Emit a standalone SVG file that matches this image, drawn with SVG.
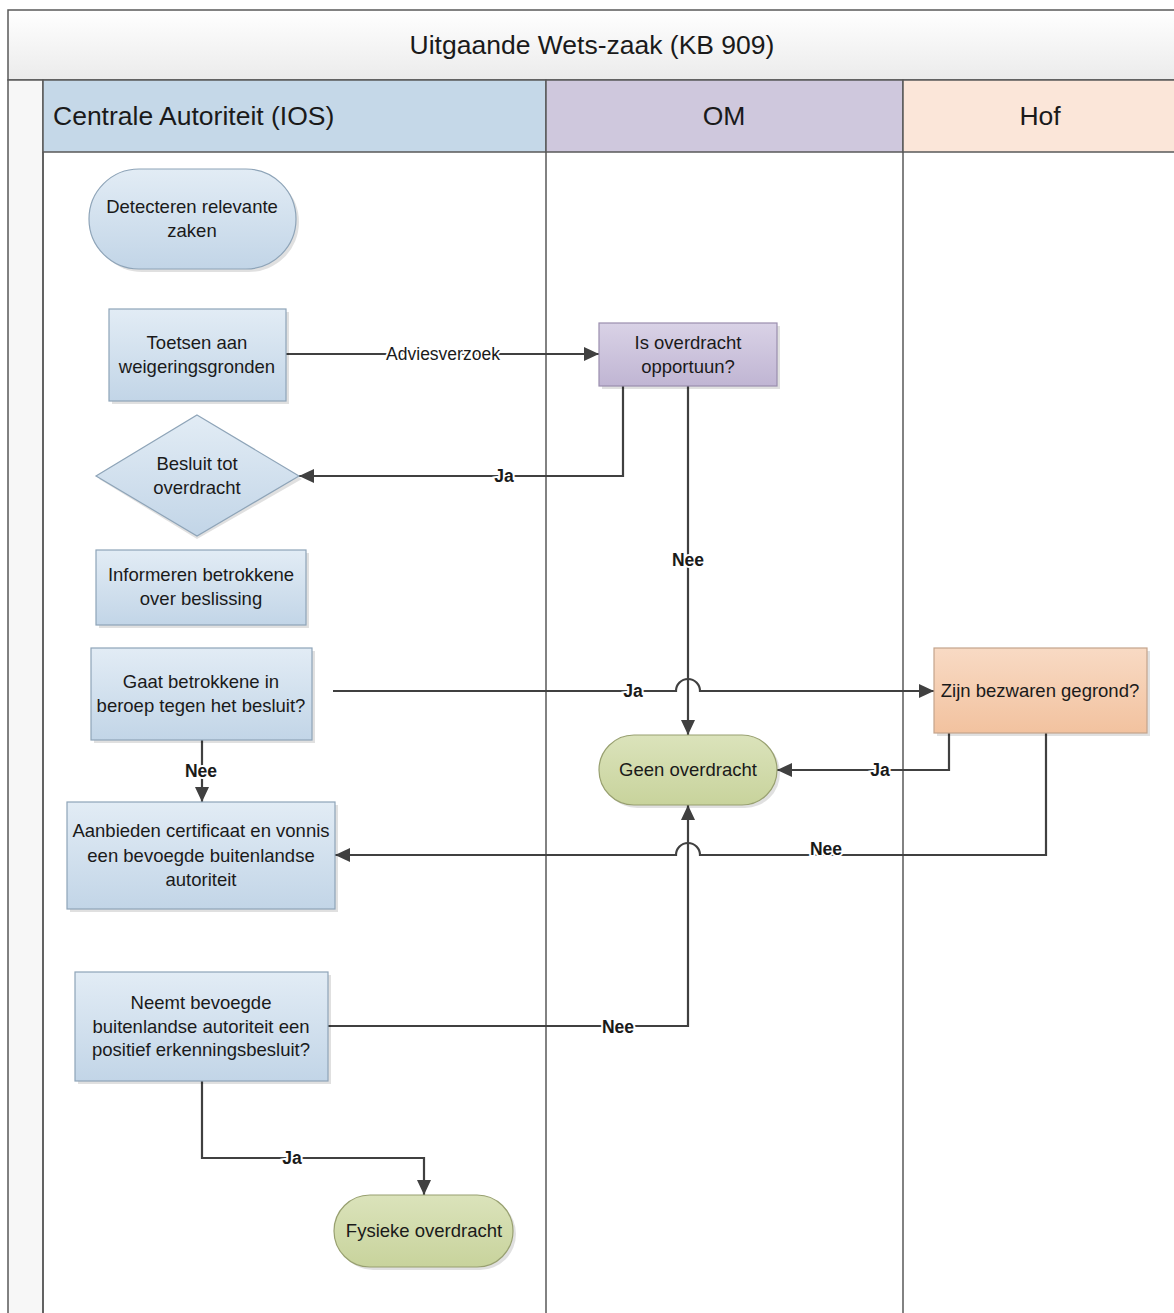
<svg xmlns="http://www.w3.org/2000/svg" width="1174" height="1313" viewBox="0 0 1174 1313">
<style>
  text { font-family: "Liberation Sans", Arial, sans-serif; fill: #1a1a1a; }
  .nt { font-size: 18.5px; text-anchor: middle; }
  .hd { font-size: 26.5px; }
  .lbl { font-size: 17.5px; text-anchor: middle; font-weight: bold; stroke: #ffffff; stroke-width: 4; paint-order: stroke; }
  .lbn { font-size: 17.5px; text-anchor: middle; stroke: #ffffff; stroke-width: 4; paint-order: stroke; }
  .ln { stroke: #595959; stroke-width: 1.5; }
  .cn { fill: none; stroke: #404040; stroke-width: 2.2; }
  .sh { fill: #000000; opacity: 0.12; }
  .blue { fill: url(#gBlue); stroke: #8ea4b8; stroke-width: 1.2; }
  .purp { fill: url(#gPurp); stroke: #9a8eae; stroke-width: 1.2; }
  .peach { fill: url(#gPeach); stroke: #c4a48c; stroke-width: 1.2; }
  .green { fill: url(#gGreen); stroke: #98a070; stroke-width: 1.2; }
</style>
<defs>
  <linearGradient id="gBlue" x1="0" y1="0" x2="0" y2="1">
    <stop offset="0" stop-color="#e2ecf5"/><stop offset="1" stop-color="#c2d5e7"/>
  </linearGradient>
  <linearGradient id="gPurp" x1="0" y1="0" x2="0" y2="1">
    <stop offset="0" stop-color="#d9d2e6"/><stop offset="1" stop-color="#c0b5d3"/>
  </linearGradient>
  <linearGradient id="gPeach" x1="0" y1="0" x2="0" y2="1">
    <stop offset="0" stop-color="#f8dac4"/><stop offset="1" stop-color="#f2c29f"/>
  </linearGradient>
  <linearGradient id="gGreen" x1="0" y1="0" x2="0" y2="1">
    <stop offset="0" stop-color="#dbe3bb"/><stop offset="1" stop-color="#c8d39c"/>
  </linearGradient>
  <linearGradient id="gTitle" x1="0" y1="0" x2="0" y2="1">
    <stop offset="0" stop-color="#ffffff"/><stop offset="1" stop-color="#ebebeb"/>
  </linearGradient>
  <marker id="arr" markerUnits="userSpaceOnUse" markerWidth="16" markerHeight="14" refX="15" refY="7" orient="auto">
    <path d="M0,0 L15,7 L0,14 z" fill="#404040"/>
  </marker>
</defs>

<rect width="1174" height="1313" fill="#ffffff"/>

<!-- pool and lanes -->
<g id="pool">
  <rect x="8" y="10" width="1170" height="70" fill="url(#gTitle)" class="ln"/>
  <text x="592" y="54" class="hd" text-anchor="middle">Uitgaande Wets-zaak (KB 909)</text>
  <rect x="8" y="80" width="35" height="1240" fill="#f7f7f7" class="ln"/>
</g>
<g id="lane-ca">
  <rect x="43" y="80" width="503" height="72" fill="#c5d8e8" class="ln"/>
  <text x="53" y="125" class="hd">Centrale Autoriteit (IOS)</text>
  <line x1="43" y1="152" x2="43" y2="1320" class="ln"/>
</g>
<g id="lane-om">
  <rect x="546" y="80" width="357" height="72" fill="#cfc8dd" class="ln"/>
  <text x="724" y="125" class="hd" text-anchor="middle">OM</text>
  <line x1="546" y1="152" x2="546" y2="1320" class="ln"/>
</g>
<g id="lane-hof">
  <rect x="903" y="80" width="280" height="72" fill="#fbe6d9" class="ln"/>
  <text x="1040" y="125" class="hd" text-anchor="middle">Hof</text>
  <line x1="903" y1="152" x2="903" y2="1320" class="ln"/>
</g>

<!-- connectors -->
<g id="connectors">
  <path d="M286,354 H599" class="cn" marker-end="url(#arr)"/>
  <text x="443" y="360" class="lbn">Adviesverzoek</text>

  <path d="M623,386 V476 H299" class="cn" marker-end="url(#arr)"/>
  <text x="504" y="482" class="lbl">Ja</text>

  <path d="M688,386 V735" class="cn" marker-end="url(#arr)"/>
  <text x="688" y="566" class="lbl">Nee</text>

  <path d="M333,691 H676 A12,12 0 0 1 700,691 H934" class="cn" marker-end="url(#arr)"/>
  <text x="633" y="697" class="lbl">Ja</text>

  <path d="M202,740 V802" class="cn" marker-end="url(#arr)"/>
  <text x="201" y="777" class="lbl">Nee</text>

  <path d="M949,733 V770 H777" class="cn" marker-end="url(#arr)"/>
  <text x="880" y="776" class="lbl">Ja</text>

  <path d="M1046,733 V855 H700 A12,12 0 0 0 676,855 H335" class="cn" marker-end="url(#arr)"/>
  <text x="826" y="855" class="lbl">Nee</text>

  <path d="M328,1026 H688 V805" class="cn" marker-end="url(#arr)"/>
  <text x="618" y="1033" class="lbl">Nee</text>

  <path d="M202,1081 V1158 H424 V1195" class="cn" marker-end="url(#arr)"/>
  <text x="292" y="1164" class="lbl">Ja</text>
</g>

<!-- nodes -->
<g id="n-detecteren">
  <rect x="92" y="172" width="207" height="100" rx="50" class="sh"/>
  <rect x="89" y="169" width="207" height="100" rx="50" class="blue"/>
  <text x="192" y="213" class="nt">Detecteren relevante</text>
  <text x="192" y="237" class="nt">zaken</text>
</g>
<g id="n-toetsen">
  <rect x="112" y="312" width="177" height="92" class="sh"/>
  <rect x="109" y="309" width="177" height="92" class="blue"/>
  <text x="197" y="349" class="nt">Toetsen aan</text>
  <text x="197" y="373" class="nt">weigeringsgronden</text>
</g>
<g id="n-opportuun">
  <rect x="602" y="326" width="178" height="63" class="sh"/>
  <rect x="599" y="323" width="178" height="63" class="purp"/>
  <text x="688" y="349" class="nt">Is overdracht</text>
  <text x="688" y="373" class="nt">opportuun?</text>
</g>
<g id="n-besluit">
  <polygon points="197,418 302,479 197,539 99,479" class="sh"/>
  <polygon points="197,415 299,476 197,536 96,476" class="blue"/>
  <text x="197" y="470" class="nt">Besluit tot</text>
  <text x="197" y="494" class="nt">overdracht</text>
</g>
<g id="n-informeren">
  <rect x="99" y="553" width="210" height="75" class="sh"/>
  <rect x="96" y="550" width="210" height="75" class="blue"/>
  <text x="201" y="581" class="nt">Informeren betrokkene</text>
  <text x="201" y="605" class="nt">over beslissing</text>
</g>
<g id="n-beroep">
  <rect x="94" y="651" width="221" height="92" class="sh"/>
  <rect x="91" y="648" width="221" height="92" class="blue"/>
  <text x="201" y="688" class="nt">Gaat betrokkene in</text>
  <text x="201" y="712" class="nt">beroep tegen het besluit?</text>
</g>
<g id="n-bezwaren">
  <rect x="937" y="651" width="213" height="85" class="sh"/>
  <rect x="934" y="648" width="213" height="85" class="peach"/>
  <text x="1040" y="697" class="nt">Zijn bezwaren gegrond?</text>
</g>
<g id="n-geen">
  <rect x="602" y="738" width="178" height="70" rx="35" class="sh"/>
  <rect x="599" y="735" width="178" height="70" rx="35" class="green"/>
  <text x="688" y="776" class="nt">Geen overdracht</text>
</g>
<g id="n-aanbieden">
  <rect x="70" y="805" width="268" height="107" class="sh"/>
  <rect x="67" y="802" width="268" height="107" class="blue"/>
  <text x="201" y="837" class="nt">Aanbieden certificaat en vonnis</text>
  <text x="201" y="862" class="nt">een bevoegde buitenlandse</text>
  <text x="201" y="886" class="nt">autoriteit</text>
</g>
<g id="n-erkenning">
  <rect x="78" y="975" width="253" height="109" class="sh"/>
  <rect x="75" y="972" width="253" height="109" class="blue"/>
  <text x="201" y="1009" class="nt">Neemt bevoegde</text>
  <text x="201" y="1033" class="nt">buitenlandse autoriteit een</text>
  <text x="201" y="1056" class="nt">positief erkenningsbesluit?</text>
</g>
<g id="n-fysieke">
  <rect x="337" y="1198" width="179" height="72" rx="36" class="sh"/>
  <rect x="334" y="1195" width="179" height="72" rx="36" class="green"/>
  <text x="424" y="1237" class="nt">Fysieke overdracht</text>
</g>
</svg>
